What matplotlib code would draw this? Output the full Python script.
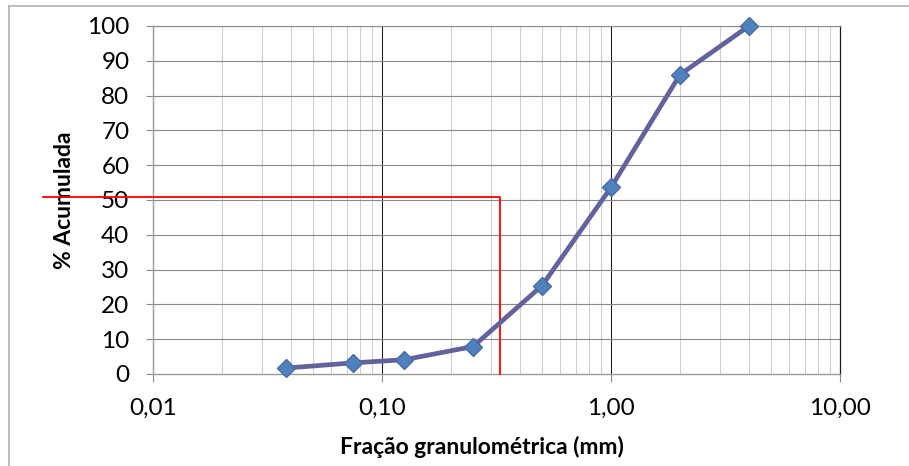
import numpy as np
import matplotlib.pyplot as plt
from matplotlib.ticker import FixedLocator, FixedFormatter, NullFormatter
from matplotlib.lines import Line2D

# Curva granulométrica
fracao_mm = [0.038, 0.075, 0.125, 0.25, 0.5, 1.0, 2.0, 4.0]
acumulada = [1.7, 3.2, 4.1, 7.9, 25.4, 53.6, 86.0, 100.0]

# D50 de referência (linha vermelha)
d50_mm = 0.327
d50_pct = 51
ref_x_start = 0.0033

x_ticks = [0.01, 0.1, 1, 10]
x_tick_labels = ['0,01', '0,10', '1,00', '10,00']
y_ticks = list(range(0, 101, 10))

plt.rcParams['font.family'] = ['Lato', 'DejaVu Sans']

fig = plt.figure(figsize=(9.09, 4.66), dpi=100)
ax = fig.add_axes([153/909, 1-374/466, 687/909, 348/466])

ax.set_xscale('log')
ax.set_xlim(0.01, 10)
ax.set_ylim(0, 100)

# grid
minor = [m * d for d in [0.01, 0.1, 1] for m in range(2, 10)]
ax.xaxis.set_minor_locator(FixedLocator(minor))
ax.xaxis.set_minor_formatter(NullFormatter())
for xm in minor:
    ax.axvline(xm, color='#cfcfcf', lw=0.8, zorder=0)
for xm in [0.1, 1]:
    ax.axvline(xm, color='#1a1a1a', lw=0.75, zorder=0)
for yv in y_ticks[1:]:
    ax.axhline(yv, color='#8a8a8a', lw=0.8, zorder=0)

ax.xaxis.set_major_locator(FixedLocator(x_ticks))
ax.xaxis.set_major_formatter(FixedFormatter(x_tick_labels))
ax.set_yticks(y_ticks)

ax.tick_params(axis='x', which='major', length=6, color='#8a8a8a', pad=11, labelsize=17.5)
ax.tick_params(axis='x', which='minor', length=0)
ax.tick_params(axis='y', length=5, color='#8a8a8a', pad=12, labelsize=17.5)

for side in ['left', 'bottom']:
    ax.spines[side].set_color('#9a9a9a')
    ax.spines[side].set_linewidth(1.0)
ax.spines['right'].set_color('#1a1a1a')
ax.spines['right'].set_linewidth(0.9)
ax.spines['top'].set_color('#8a8a8a')
ax.spines['top'].set_linewidth(0.8)

ax.plot(fracao_mm, acumulada, color='#62629c', lw=3.4, marker='D', ms=9.5,
        markerfacecolor='#4f81bd', markeredgecolor='#4a6aa0', markeredgewidth=1.0,
        zorder=5, clip_on=False)

ax.plot([ref_x_start, d50_mm, d50_mm], [d50_pct, d50_pct, 0], color='#ff0000', lw=1.3,
        zorder=4, clip_on=False)

ax.set_xlabel('Fração granulométrica (mm)', fontsize=16.5, fontweight='bold')
ax.set_ylabel('% Acumulada', fontsize=16.5, fontweight='bold')
ax.xaxis.set_label_coords(0.479, -0.178)
ax.yaxis.set_label_coords(-0.1135, 0.5)

# chart border (Excel chart area)
fig.add_artist(Line2D([9/909, 9/909], [0, 1-6/466], color='#b0b0b0', lw=1.2))
fig.add_artist(Line2D([9/909, 1], [1-6/466, 1-6/466], color='#b0b0b0', lw=1.2))

fig.savefig('out.png', dpi=100)
